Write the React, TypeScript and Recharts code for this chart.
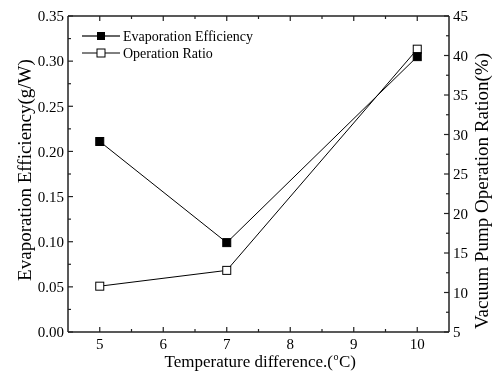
import React from 'react';
import { LineChart, Line, XAxis, YAxis, Legend } from 'recharts';

const temps = [5, 7, 10];
const evapEfficiency = [0.211, 0.099, 0.305];
const operationRatio = [10.8, 12.8, 40.8];

const xTicks = [5, 5.5, 6, 6.5, 7, 7.5, 8, 8.5, 9, 9.5, 10];
const leftTicks = [0, 0.025, 0.05, 0.075, 0.1, 0.125, 0.15, 0.175, 0.2, 0.225, 0.25, 0.275, 0.3, 0.325, 0.35];
const rightTicks = [5, 7.5, 10, 12.5, 15, 17.5, 20, 22.5, 25, 27.5, 30, 32.5, 35, 37.5, 40, 42.5, 45];

const data = temps.map((t, i) => ({
  temp: t,
  evap: evapEfficiency[i],
  ratio: operationRatio[i],
}));

const serif = { fontFamily: 'Liberation Serif' };
const AXIS = '#222';

const isMajor = (v: number, step: number) => Math.abs(v / step - Math.round(v / step)) < 1e-6;

const BottomTick = ({ x, y, payload }: any) => {
  const major = isMajor(payload.value, 1);
  return (
    <g>
      <line x1={x} y1={y} x2={x} y2={y - (major ? 5 : 3)} stroke={AXIS} strokeWidth={1.2} />
      {major && (
        <text x={x} y={y + 16.5} textAnchor="middle" fontSize={15} style={serif} fill="#000">
          {payload.value}
        </text>
      )}
    </g>
  );
};

const TopTick = ({ x, y, payload }: any) => {
  const major = isMajor(payload.value, 1);
  return <line x1={x} y1={y} x2={x} y2={y + (major ? 5 : 3)} stroke={AXIS} strokeWidth={1.2} />;
};

const LeftTick = ({ x, y, payload }: any) => {
  const major = isMajor(payload.value, 0.05);
  return (
    <g>
      <line x1={x} y1={y} x2={x + (major ? 5 : 3)} y2={y} stroke={AXIS} strokeWidth={1.2} />
      {major && (
        <text x={x - 4} y={y} dy="0.35em" textAnchor="end" fontSize={15} style={serif} fill="#000">
          {payload.value.toFixed(2)}
        </text>
      )}
    </g>
  );
};

const RightTick = ({ x, y, payload }: any) => {
  const major = isMajor(payload.value, 5);
  return (
    <g>
      <line x1={x} y1={y} x2={x - (major ? 5 : 3)} y2={y} stroke={AXIS} strokeWidth={1.2} />
      {major && (
        <text x={x + 4} y={y} dy="0.35em" textAnchor="start" fontSize={15} style={serif} fill="#000">
          {payload.value}
        </text>
      )}
    </g>
  );
};

const FilledSquare = (props: any) => (
  <rect key={`f-${props.index}`} x={props.cx - 4} y={props.cy - 4} width={8} height={8} fill="#000" stroke="#000" />
);

const OpenSquare = (props: any) => (
  <rect key={`o-${props.index}`} x={props.cx - 4} y={props.cy - 4} width={8} height={8} fill="#fff" stroke="#000" strokeWidth={1} />
);

const LegendBox = () => (
  <svg width={220} height={38}>
    <line x1={4} y1={12} x2={42} y2={12} stroke="#333" strokeWidth={1.5} />
    <rect x={19} y={8} width={8} height={8} fill="#000" />
    <text x={45} y={17} fontSize={14} style={serif} fill="#000">Evaporation Efficiency</text>
    <line x1={4} y1={29} x2={42} y2={29} stroke="#000" strokeWidth={1} />
    <rect x={19} y={25} width={8} height={8} fill="#fff" stroke="#000" />
    <text x={45} y={34} fontSize={14} style={serif} fill="#000">Operation Ratio</text>
  </svg>
);

const XTitle = () => (
  <g>
    <text x={325} y={359} textAnchor="end" fontSize={17} style={serif} fill="#000">
      Temperature difference.(
    </text>
    <text x={325.5} y={352} textAnchor="start" fontSize={10} style={serif} fill="#000">
      o
    </text>
    <text x={331} y={359} textAnchor="start" fontSize={17} style={serif} fill="#000">
      C)
    </text>
  </g>
);

export default function App() {
  // fixed so the page never overflows the 493x375 window
  return (
    <div style={{ position: 'fixed', top: 8, left: 8, width: 485, height: 367 }}>
      <LineChart width={485} height={367} data={data} margin={{ top: 0, right: 0, left: 0, bottom: 0 }}>
        <XAxis
          xAxisId="bottom"
          dataKey="temp"
          type="number"
          domain={[4.5, 10.5]}
          ticks={xTicks}
          interval={0}
          height={43}
          tickSize={0}
          tickMargin={0}
          tick={<BottomTick />}
          axisLine={{ stroke: AXIS, strokeWidth: 1.5 }}
          label={{ content: () => <XTitle /> }}
        />
        <XAxis
          xAxisId="top"
          orientation="top"
          dataKey="temp"
          type="number"
          domain={[4.5, 10.5]}
          ticks={xTicks}
          interval={0}
          height={8}
          tickSize={0}
          tickMargin={0}
          tick={<TopTick />}
          axisLine={{ stroke: AXIS, strokeWidth: 1.5 }}
        />
        <YAxis
          yAxisId="left"
          domain={[0, 0.35]}
          ticks={leftTicks}
          interval={0}
          width={60}
          tickSize={0}
          tickMargin={0}
          tick={<LeftTick />}
          axisLine={{ stroke: AXIS, strokeWidth: 1.5 }}
          label={{
            content: () => (
              <text
                x={16}
                y={162}
                transform="rotate(-90 16 162)"
                dy="0.35em"
                textAnchor="middle"
                fontSize={19}
                style={serif}
                fill="#000"
              >
                Evaporation Efficiency(g/W)
              </text>
            ),
          }}
        />
        <YAxis
          yAxisId="right"
          orientation="right"
          domain={[5, 45]}
          ticks={rightTicks}
          interval={0}
          width={44}
          tickSize={0}
          tickMargin={0}
          tick={<RightTick />}
          axisLine={{ stroke: AXIS, strokeWidth: 1.5 }}
          label={{
            content: () => (
              <text
                x={473}
                y={183}
                transform="rotate(-90 473 183)"
                dy="0.35em"
                textAnchor="middle"
                fontSize={19}
                style={serif}
                fill="#000"
              >
                Vacuum Pump Operation Ration(%)
              </text>
            ),
          }}
        />
        <Legend
          layout="vertical"
          align="center"
          verticalAlign="middle"
          wrapperStyle={{ top: 16, left: 70, width: 220, height: 38 }}
          content={() => <LegendBox />}
        />
        <Line
          xAxisId="bottom"
          yAxisId="right"
          dataKey="ratio"
          stroke="#000"
          strokeWidth={1}
          dot={OpenSquare}
          isAnimationActive={false}
        />
        <Line
          xAxisId="bottom"
          yAxisId="left"
          dataKey="evap"
          stroke="#000"
          strokeWidth={1}
          dot={FilledSquare}
          isAnimationActive={false}
        />
      </LineChart>
    </div>
  );
}
